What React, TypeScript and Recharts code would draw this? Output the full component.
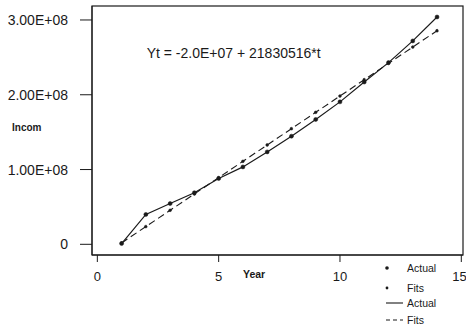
import React from 'react'
import { LineChart, Line, XAxis, YAxis } from 'recharts'

// values
const years = [1, 2, 3, 4, 5, 6, 7, 8, 9, 10, 11, 12, 13, 14]
const actual = [
  1.0e6, 4.0e7, 5.45e7, 6.9e7, 8.8e7, 1.035e8, 1.236e8, 1.446e8, 1.67e8, 1.905e8, 2.17e8, 2.43e8,
  2.72e8, 3.04e8,
]
const fits = [
  1.83e6, 2.37e7, 4.55e7, 6.73e7, 8.92e7, 1.11e8, 1.328e8, 1.546e8, 1.765e8, 1.983e8, 2.201e8,
  2.42e8, 2.638e8, 2.856e8,
]
const xTicks = [0, 5, 10, 15]
const yTicks = [0, 1e8, 2e8, 3e8]
const yTickLabels = ['0', '1.00E+08', '2.00E+08', '3.00E+08']
const legendLabels = ['Actual', 'Fits', 'Actual', 'Fits']
const equation = 'Yt = -2.0E+07 + 21830516*t'

const X_DOMAIN: [number, number] = [-0.22, 15.07]
const Y_DOMAIN: [number, number] = [-1.43e7, 3.187e8]
const FONT = '"Liberation Sans", Arial, sans-serif'
const INK = '#1a1a1a'

const W = 466
const H = 330
const MARGIN = { top: 6, right: 3, bottom: 45, left: 0 }
const Y_AXIS_W = 92
const X_AXIS_H = 30
// plot box derived from the margins and axis sizes above
const PLOT = {
  x: MARGIN.left + Y_AXIS_W,
  y: MARGIN.top,
  w: W - MARGIN.left - MARGIN.right - Y_AXIS_W,
  h: H - MARGIN.top - MARGIN.bottom - X_AXIS_H,
}

const data = years.map((t, i) => ({ t, actual: actual[i], fits: fits[i] }))

const Legend = () => (
  <g fontFamily={FONT} fontSize={10.5} fill={INK}>
    <circle cx={387} cy={268} r={1.8} fill={INK} />
    <text x={407} y={268} dominantBaseline="central">{legendLabels[0]}</text>
    <circle cx={387} cy={288} r={1.4} fill={INK} />
    <text x={407} y={288} dominantBaseline="central">{legendLabels[1]}</text>
    <line x1={386} x2={403} y1={303} y2={303} stroke={INK} strokeWidth={1.1} />
    <text x={407} y={303} dominantBaseline="central">{legendLabels[2]}</text>
    <line x1={386} x2={403} y1={320} y2={320} stroke={INK} strokeWidth={1.1} strokeDasharray="4 3" />
    <text x={407} y={320} dominantBaseline="central">{legendLabels[3]}</text>
  </g>
)

export default function App() {
  return (
    <div style={{ position: 'absolute', left: 0, top: 0, width: W, height: H, background: '#fff' }}>
      <LineChart width={W} height={H} data={data} margin={MARGIN}>
        <XAxis
          dataKey="t"
          type="number"
          domain={X_DOMAIN}
          ticks={xTicks}
          allowDataOverflow
          height={X_AXIS_H}
          tickSize={7}
          tickMargin={10}
          stroke={INK}
          tick={{ fill: INK, fontSize: 13, fontFamily: FONT }}
        />
        <YAxis
          type="number"
          domain={Y_DOMAIN}
          ticks={yTicks}
          allowDataOverflow
          width={Y_AXIS_W}
          tickSize={12}
          tickMargin={12}
          stroke={INK}
          tick={{ fill: INK, fontSize: 14, fontFamily: FONT }}
          tickFormatter={(v: number) => yTickLabels[yTicks.indexOf(v)] ?? String(v)}
        />
        <Line
          dataKey="fits"
          name="Fits"
          stroke={INK}
          strokeWidth={1.1}
          strokeDasharray="7 4"
          dot={{ r: 1.4, fill: INK, stroke: INK, strokeWidth: 0.5 }}
          isAnimationActive={false}
        />
        <Line
          dataKey="actual"
          name="Actual"
          stroke={INK}
          strokeWidth={1.2}
          dot={{ r: 2, fill: INK, stroke: INK, strokeWidth: 0.5 }}
          isAnimationActive={false}
        />
      </LineChart>
      <svg width={W} height={H} style={{ position: 'absolute', left: 0, top: 0, pointerEvents: 'none' }}>
        <rect x={PLOT.x} y={PLOT.y} width={PLOT.w} height={PLOT.h} fill="none" stroke={INK} strokeWidth={1.2} />
        <text x={146.7} y={53} dominantBaseline="central" fontFamily={FONT} fontSize={14} fill={INK}>
          {equation}
        </text>
        <text x={12} y={127} dominantBaseline="central" fontFamily={FONT} fontSize={10} fontWeight="bold" fill={INK}>
          Incom
        </text>
        <text x={243} y={274} dominantBaseline="central" fontFamily={FONT} fontSize={10.5} fontWeight="bold" fill={INK}>
          Year
        </text>
        <Legend />
      </svg>
    </div>
  )
}
